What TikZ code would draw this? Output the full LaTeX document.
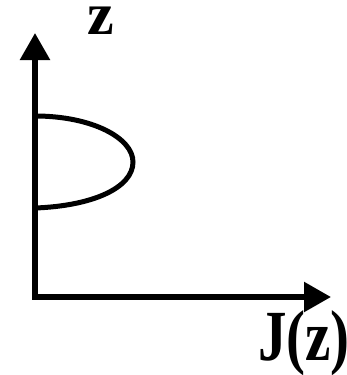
\documentclass[tikz,border=0pt]{standalone}
\usepackage{fontspec}
\setmainfont{Liberation Serif}
\usepackage{tikz}
\usetikzlibrary{arrows.meta}
\tikzset{
    axis/.style={line width=5.5pt, line join=miter, {Triangle[width=29pt,length=27pt]}-{Triangle[width=29pt,length=27pt]}},
    profile/.style={line width=5pt},
    axlabel/.style={inner sep=1pt, font=\fontsize{60}{62}\selectfont\bfseries}
}
\begin{document}
\begin{tikzpicture}[x=1pt, y=-1pt]
    \useasboundingbox (0,0) rectangle (347,375);
    \coordinate (ztop) at (35,33);
    \coordinate (origin) at (35,297);
    \coordinate (jend) at (331,297);
    \coordinate (upper) at (35,116);
    \coordinate (tip) at (133,162);
    \coordinate (lower) at (35,208);

    \node [axlabel] (zlabel) at (101,21) {z};
    \node [axlabel, yscale=1.2, xscale=0.95] (jlabel) at (304,343) {J(z)};

    \draw [axis] (ztop) -- (origin) -- (jend);
    \draw [profile] (upper) .. controls (92,116) and (133,138) .. (tip)
        .. controls (133,188) and (92,206) .. (lower);
\end{tikzpicture}
\end{document}
